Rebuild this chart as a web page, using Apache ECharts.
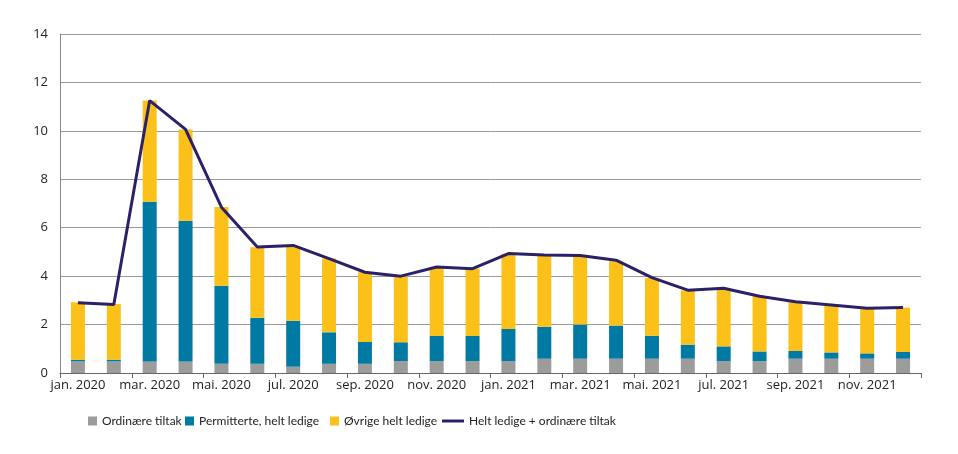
<!DOCTYPE html>
<html>
<head>
<meta charset="utf-8">
<script src="https://cdn.jsdelivr.net/npm/echarts@6/dist/echarts.min.js"></script>
<style>
html,body{margin:0;padding:0;background:#fff;}
#c{width:958px;height:454px;}
</style>
</head>
<body>
<div id="c"></div>
<script>
var categories = ['jan. 2020','feb. 2020','mar. 2020','apr. 2020','mai. 2020','jun. 2020','jul. 2020','aug. 2020','sep. 2020','okt. 2020','nov. 2020','des. 2020',
                  'jan. 2021','feb. 2021','mar. 2021','apr. 2021','mai. 2021','jun. 2021','jul. 2021','aug. 2021','sep. 2021','okt. 2021','nov. 2021','des. 2021'];
// stacked segment values (not cumulative)
var ordinaere = [0.48,0.48,0.48,0.48,0.38,0.38,0.26,0.38,0.38,0.49,0.49,0.49,0.49,0.59,0.59,0.59,0.59,0.59,0.49,0.49,0.59,0.59,0.59,0.59];
var permitterte = [0.07,0.07,6.59,5.81,3.22,1.90,1.90,1.30,0.90,0.78,1.04,1.04,1.33,1.32,1.41,1.37,0.95,0.58,0.61,0.40,0.32,0.26,0.22,0.28];
var ovrige = [2.37,2.30,4.18,3.77,3.26,2.91,3.10,3.05,2.88,2.72,2.83,2.79,3.10,2.94,2.85,2.66,2.38,2.24,2.38,2.28,2.01,1.93,1.83,1.83];
var heltLedigeOrd = [2.90,2.83,11.25,10.06,6.85,5.20,5.27,4.72,4.16,4.00,4.38,4.31,4.93,4.87,4.85,4.66,3.94,3.42,3.50,3.17,2.94,2.81,2.67,2.71];
var yTicks = {min:0, max:14, interval:2};

var font = "Lato,'Noto Sans',sans-serif";
var axisFont = "'Open Sans','Noto Sans',sans-serif";
var names = ['Ordinære tiltak','Permitterte, helt ledige','Øvrige helt ledige','Helt ledige + ordinære tiltak'];
var colors = ['#9c9c9b','#0079a3','#fcc118','#2b2168'];

function leg(i, left, w, h){
  return {
    left: left, top: 410, itemWidth: w, itemHeight: h, itemGap: 0,
    icon: 'rect', selectedMode: false,
    textStyle: {fontFamily: font, fontSize: 12, color: '#222'},
    data: [{name: names[i]}]
  };
}

var chart = echarts.init(document.getElementById('c'), null, {renderer:'canvas'});
chart.setOption({
  animation: false,
  color: colors,
  grid: {left: 60, right: 37, top: 34, bottom: 81, containLabel: false},
  legend: [
    leg(0, 83, 9, 9),
    leg(1, 180, 9, 9),
    leg(2, 325, 9, 9),
    leg(3, 437, 22, 3)
  ],
  xAxis: {
    type: 'category',
    data: categories,
    boundaryGap: true,
    axisLine: {show: true, lineStyle: {color: '#666', width: 1}},
    axisTick: {show: true, interval: 1, length: 5, lineStyle: {color: '#666'}},
    axisLabel: {interval: 1, color: '#222', fontFamily: axisFont, fontSize: 13, margin: 6},
    splitLine: {show: false}
  },
  yAxis: {
    type: 'value',
    min: yTicks.min, max: yTicks.max, interval: yTicks.interval,
    axisLine: {show: true, lineStyle: {color: '#888', width: 1}},
    axisTick: {show: false},
    axisLabel: {color: '#222', fontFamily: axisFont, fontSize: 13, margin: 12},
    splitLine: {show: true, lineStyle: {color: '#999', width: 1}}
  },
  series: [
    {name: names[0], type: 'bar', stack: 'a', barWidth: 14, data: ordinaere, itemStyle: {color: colors[0]}},
    {name: names[1], type: 'bar', stack: 'a', barWidth: 14, data: permitterte, itemStyle: {color: colors[1]}},
    {name: names[2], type: 'bar', stack: 'a', barWidth: 14, data: ovrige, itemStyle: {color: colors[2]}},
    {name: names[3], type: 'line', data: heltLedigeOrd, showSymbol: false, symbol: 'none',
     lineStyle: {color: colors[3], width: 3}, itemStyle: {color: colors[3]}, z: 5}
  ]
});
</script>
</body>
</html>
